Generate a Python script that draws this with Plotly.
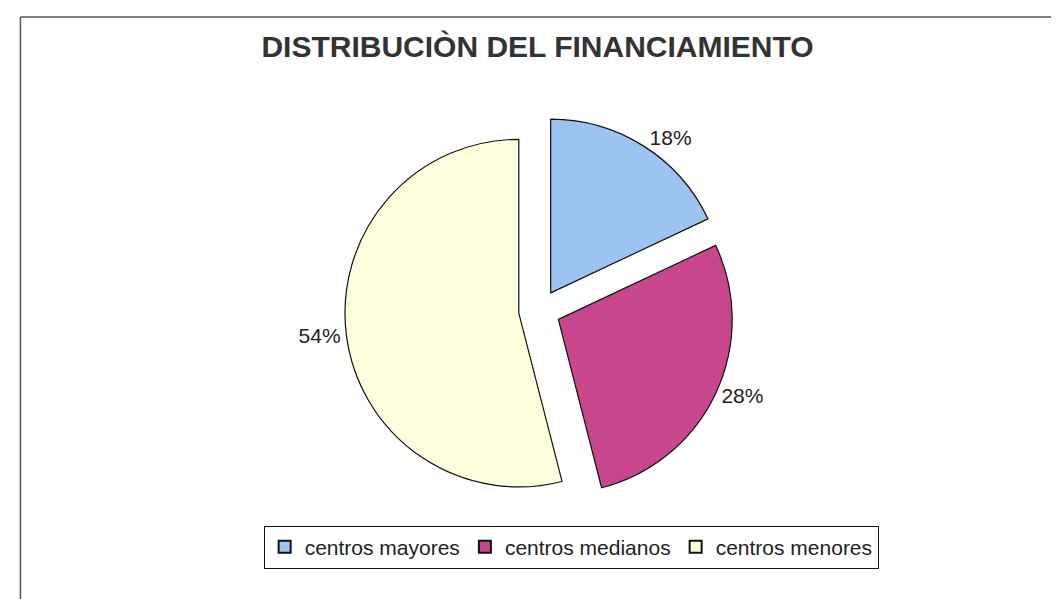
import plotly.graph_objects as go

categories = ["centros mayores", "centros medianos", "centros menores"]
values = [18, 28, 54]
colors = ["#9DC3F2", "#C8478C", "#FFFFDD"]
pulls = [0.12, 0.12, 0.12]

FONT = "Arial, Liberation Sans, sans-serif"

fig = go.Figure()
fig.add_trace(go.Pie(
    labels=categories,
    values=values,
    sort=False,
    direction="clockwise",
    rotation=0,
    pull=pulls,
    marker=dict(colors=colors, line=dict(color="#111111", width=1.2)),
    textinfo="percent",
    texttemplate="%{percent:.0%}",
    textposition="outside",
    outsidetextfont=dict(family=FONT, size=21, color="#222222"),
    hoverinfo="label+percent",
    domain=dict(x=[0.2, 0.8], y=[0.17, 0.82]),
    showlegend=True,
))

fig.update_layout(
    width=1059,
    height=599,
    paper_bgcolor="white",
    plot_bgcolor="white",
    margin=dict(l=0, r=0, t=0, b=0),
    title=dict(
        text="<b>DISTRIBUCIÒN DEL FINANCIAMIENTO</b>",
        x=0.5, xanchor="center",
        y=0.935, yanchor="middle",
        font=dict(family=FONT, size=30, color="#333333"),
    ),
    legend=dict(
        orientation="h",
        x=0.53, xanchor="center",
        y=0.1, yanchor="middle",
        bordercolor="#111111",
        borderwidth=1,
        bgcolor="white",
        font=dict(family=FONT, size=21, color="#222222"),
        itemsizing="constant",
        itemwidth=30,
        traceorder="normal",
    ),
    shapes=[
        dict(type="line", xref="paper", yref="paper", x0=0.008, y0=0.985, x1=1.0, y1=0.985,
             line=dict(color="#555555", width=1.5)),
        dict(type="line", xref="paper", yref="paper", x0=0.008, y0=0.985, x1=0.008, y1=0.0,
             line=dict(color="#555555", width=1.5)),
    ],
)

fig.write_html("out.html")
